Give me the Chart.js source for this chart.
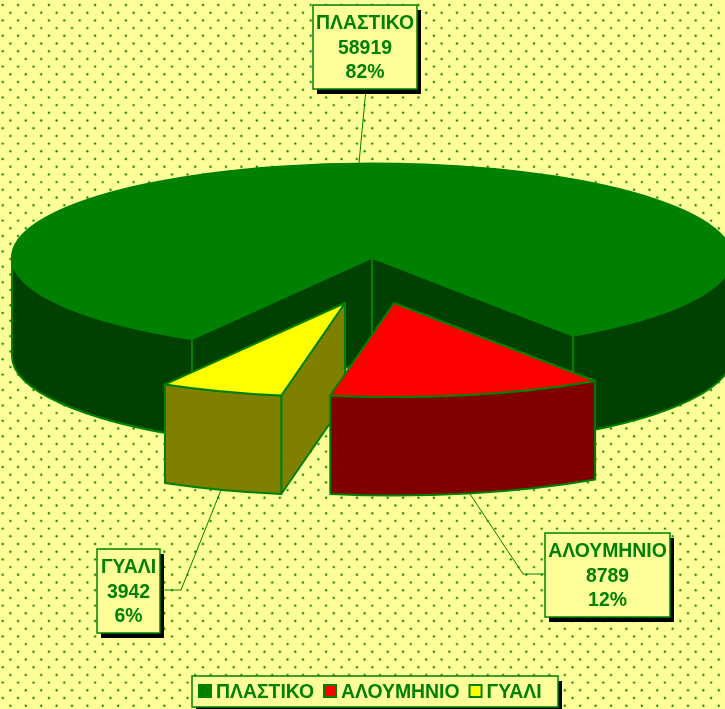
<!DOCTYPE html>
<html>
<head>
<meta charset="utf-8">
<style>
    html, body { margin: 0; padding: 0; background: #ffff99; overflow: hidden; }
    #chart-wrap { width: 725px; height: 709px; }
</style>
<script src="https://cdn.jsdelivr.net/npm/chart.js@4/dist/chart.umd.min.js"></script>
</head>
<body>
<div id="chart-wrap"><canvas id="pie-chart"></canvas></div>
<script>
// Chart data
const categories = ['ΠΛΑΣΤΙΚΟ', 'ΑΛΟΥΜΗΝΙΟ', 'ΓΥΑΛΙ'];
const tonnes = [58919, 8789, 3942];

// Colours per slice
const topColors = ['#008000', '#ff0000', '#ffff00'];
const sideColors = ['#004000', '#800000', '#808000'];
const LINE = '#008000';
const PAPER = '#ffff99';
const FONT = 'bold 19.4px "Liberation Sans", Arial, sans-serif';

// 3D look of the pie
const CX = 372, CY = 257.5, RX = 360, RY = 94, DEPTH = 98.5;
const explodeX = [0, 22, -27];
const explodeY = [0, 45.5, 45.5];
const drawOrder = [0, 2, 1];

// Callout boxes: [left, top, right, bottom] and leader line points
const calloutBoxes = [[313, 5, 417, 89], [545, 533, 670, 617], [97, 549, 160, 633]];
const leaders = [
    [[366, 89], [359, 163]],
    [[545, 574], [523, 574], [470, 494]],
    [[160, 590], [181, 590], [221, 490]]
];

function shadowBox(ctx, l, t, r, b) {
    ctx.fillStyle = '#000';
    ctx.fillRect(l + 4, t + 5, r - l, b - t);
    ctx.fillStyle = PAPER;
    ctx.fillRect(l, t, r - l, b - t);
    ctx.strokeStyle = LINE;
    ctx.lineWidth = 1.5;
    ctx.strokeRect(l, t, r - l, b - t);
}

function paintShape(ctx, fill) {
    ctx.fillStyle = fill;
    ctx.fill();
    ctx.strokeStyle = LINE;
    ctx.lineWidth = 2;
    ctx.lineJoin = 'round';
    ctx.stroke();
}

// Draw one slice from the angles the doughnut controller computed
function drawSlice(ctx, arc, i) {
    const { startAngle, endAngle } = arc.getProps(['startAngle', 'endAngle'], true);
    const ox = CX + explodeX[i];
    const oy = CY + explodeY[i];
    const px = a => ox + RX * Math.cos(a);
    const py = a => oy + RY * Math.sin(a);

    // cut faces, only the ones turned towards the viewer
    [[startAngle, Math.cos(startAngle) < 0], [endAngle, Math.cos(endAngle) > 0]].forEach(([a, visible]) => {
        if (!visible) return;
        ctx.beginPath();
        ctx.moveTo(ox, oy);
        ctx.lineTo(px(a), py(a));
        ctx.lineTo(px(a), py(a) + DEPTH);
        ctx.lineTo(ox, oy + DEPTH);
        ctx.closePath();
        paintShape(ctx, sideColors[i]);
    });

    // outer wall, front half of the ellipse only
    for (let k = 0; k <= 2; k += 2) {
        const from = Math.max(startAngle, k * Math.PI);
        const to = Math.min(endAngle, (k + 1) * Math.PI);
        if (from >= to) continue;
        ctx.beginPath();
        ctx.ellipse(ox, oy, RX, RY, 0, from, to);
        ctx.lineTo(px(to), py(to) + DEPTH);
        ctx.ellipse(ox, oy + DEPTH, RX, RY, 0, to, from, true);
        ctx.closePath();
        paintShape(ctx, sideColors[i]);
    }

    // top face
    ctx.beginPath();
    ctx.moveTo(ox, oy);
    ctx.ellipse(ox, oy, RX, RY, 0, startAngle, endAngle);
    ctx.closePath();
    paintShape(ctx, topColors[i]);
}

// Dotted paper background
const backgroundPlugin = {
    id: 'dottedPaper',
    beforeDraw(chart) {
        const ctx = chart.ctx;
        ctx.save();
        ctx.fillStyle = PAPER;
        ctx.fillRect(0, 0, chart.width, chart.height);
        for (let y = 0; y < 47; y++) {
            for (let x = 0; x < 48; x++) {
                [[2.7, 5], [10.4, 12.7]].forEach(([dx, dy]) => {
                    ctx.fillStyle = 'rgba(0,128,0,0.25)';
                    ctx.beginPath();
                    ctx.arc(dx + x * 15.4, dy + y * 15.4, 1.7, 0, Math.PI * 2);
                    ctx.fill();
                    ctx.fillStyle = '#0a800a';
                    ctx.beginPath();
                    ctx.arc(dx + x * 15.4, dy + y * 15.4, 0.95, 0, Math.PI * 2);
                    ctx.fill();
                });
            }
        }
        ctx.restore();
    }
};

// Replaces the flat arcs with the extruded ones
const pie3dPlugin = {
    id: 'pie3d',
    beforeDatasetsDraw(chart) {
        const ctx = chart.ctx;
        const arcs = chart.getDatasetMeta(0).data;

        ctx.save();
        ctx.strokeStyle = LINE;
        ctx.lineWidth = 1;
        leaders.forEach(points => {
            ctx.beginPath();
            points.forEach(([x, y], n) => n ? ctx.lineTo(x, y) : ctx.moveTo(x, y));
            ctx.stroke();
        });
        drawOrder.forEach(i => drawSlice(ctx, arcs[i], i));
        ctx.restore();
        return false;
    },
    afterDraw(chart) {
        const ctx = chart.ctx;
        const total = tonnes.reduce((a, b) => a + b, 0);

        ctx.save();
        ctx.font = FONT;
        ctx.textBaseline = 'middle';

        // callouts
        categories.forEach((name, i) => {
            const [l, t, r, b] = calloutBoxes[i];
            shadowBox(ctx, l, t, r, b);
            const lines = [name, String(tonnes[i]), Math.round(tonnes[i] / total * 100) + '%'];
            ctx.fillStyle = LINE;
            ctx.textAlign = 'center';
            lines.forEach((text, n) => ctx.fillText(text, (l + r) / 2, t + 19 + n * 24.5));
        });

        // legend
        shadowBox(ctx, 192, 676, 558, 707);
        ctx.textAlign = 'left';
        let x = 199;
        categories.forEach((name, i) => {
            ctx.fillStyle = topColors[i];
            ctx.fillRect(x, 685, 12, 12);
            ctx.strokeStyle = LINE;
            ctx.lineWidth = 2;
            ctx.strokeRect(x, 685, 12, 12);
            ctx.fillStyle = LINE;
            ctx.fillText(name, x + 17, 693);
            x += 17 + ctx.measureText(name).width + 10;
        });
        ctx.restore();
    }
};

new Chart(document.getElementById('pie-chart'), {
    type: 'pie',
    data: {
        labels: categories,
        datasets: [{ data: tonnes, backgroundColor: topColors, borderColor: LINE }]
    },
    options: {
        responsive: true,
        maintainAspectRatio: false,
        animation: false,
        rotation: 210,
        plugins: {
            legend: { display: false },
            tooltip: { enabled: false }
        }
    },
    plugins: [backgroundPlugin, pie3dPlugin]
});
</script>
</body>
</html>
